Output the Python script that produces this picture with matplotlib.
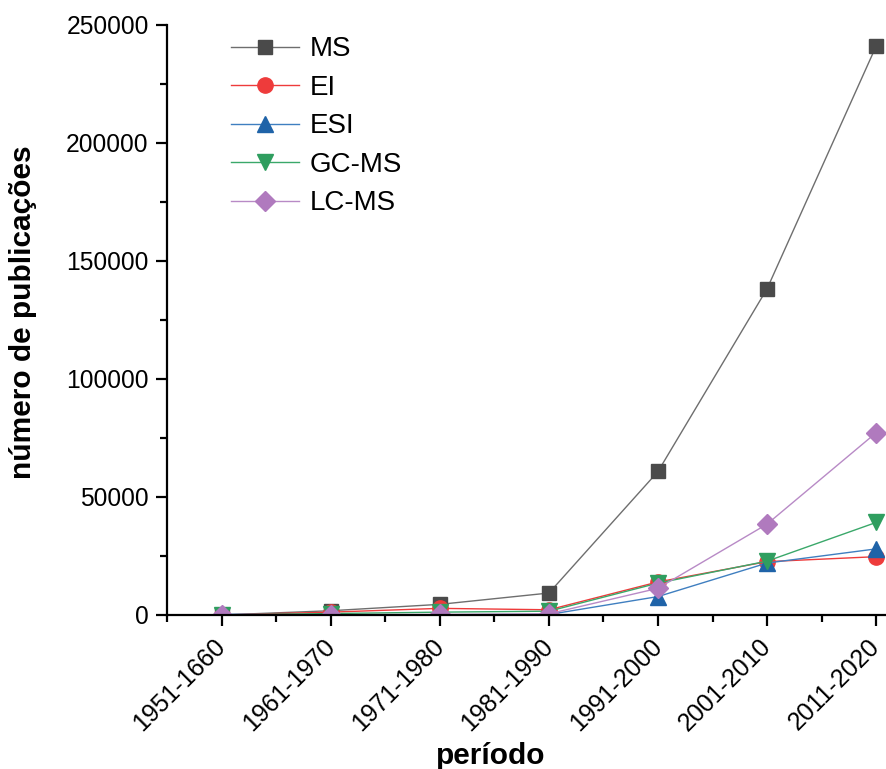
import matplotlib
matplotlib.use("Agg")
import matplotlib.pyplot as plt
from matplotlib.ticker import MultipleLocator, FixedLocator

plt.rcParams['font.family'] = ['Liberation Sans', 'DejaVu Sans']

periods = ["1951-1660", "1961-1970", "1971-1980", "1981-1990",
           "1991-2000", "2001-2010", "2011-2020"]
ms = [0, 1800, 4500, 9300, 60800, 138200, 241000]
ei = [0, 1200, 2800, 2200, 14000, 22600, 24700]
esi = [300, 100, 100, 200, 7800, 22000, 28000]
gcms = [0, 600, 1200, 1600, 13500, 22800, 39200]
lcms = [0, 100, 200, 500, 11300, 38500, 77200]

series = [
    ("MS", ms, "s", "#4a4a4a", "#6e6e6e", 9.8),
    ("EI", ei, "o", "#ee3b3b", "#ee3b3b", 11),
    ("ESI", esi, "^", "#1f63a8", "#3f7fc0", 12),
    ("GC-MS", gcms, "v", "#2f9e5f", "#3aa86a", 12),
    ("LC-MS", lcms, "D", "#b07abe", "#b88ac6", 10.5),
]

fig = plt.figure(figsize=(8.87, 7.69), dpi=100)
ax = fig.add_axes([0.188, 0.2003, 0.812, 0.7672])
x = list(range(len(periods)))
for name, vals, mk, mc, lc, ms_ in series:
    ax.plot(x, vals, color=lc, lw=1.0, marker=mk, markersize=ms_,
            markerfacecolor=mc, markeredgecolor=mc, label=name)

ax.set_xlim(-0.505, 6.1)
ax.set_ylim(0, 250000)
ax.xaxis.set_major_locator(FixedLocator(x))
ax.xaxis.set_minor_locator(FixedLocator([i + 0.5 for i in range(-1, 7)]))
ax.set_xticklabels(periods, rotation=45, ha='right', va='center', rotation_mode='anchor')
ax.yaxis.set_major_locator(MultipleLocator(50000))
ax.yaxis.set_minor_locator(MultipleLocator(25000))
ax.spines['top'].set_visible(False)
ax.spines['right'].set_visible(False)
for s in ('left', 'bottom'):
    ax.spines[s].set_linewidth(1.6)
ax.tick_params(which='major', direction='out', length=8, width=1.6, labelsize=17.7, pad=5)
ax.tick_params(axis='x', which='major', labelsize=17.9, pad=12)
ax.tick_params(which='minor', direction='out', length=5, width=1.6)
ax.set_xlabel("período", fontsize=21.5, fontweight='bold', va='baseline')
ax.xaxis.set_label_coords(0.45, -0.2525)
ax.set_ylabel("número de publicações", fontsize=21.5, fontweight='bold', va='bottom')
ax.yaxis.set_label_coords(-0.18, 0.514)

leg = ax.legend(loc='upper left', bbox_to_anchor=(0.054, 1.023), frameon=False,
                fontsize=20, handlelength=2.45, labelspacing=0.45,
                handletextpad=0.4)
fig.savefig("out.png", dpi=100)
